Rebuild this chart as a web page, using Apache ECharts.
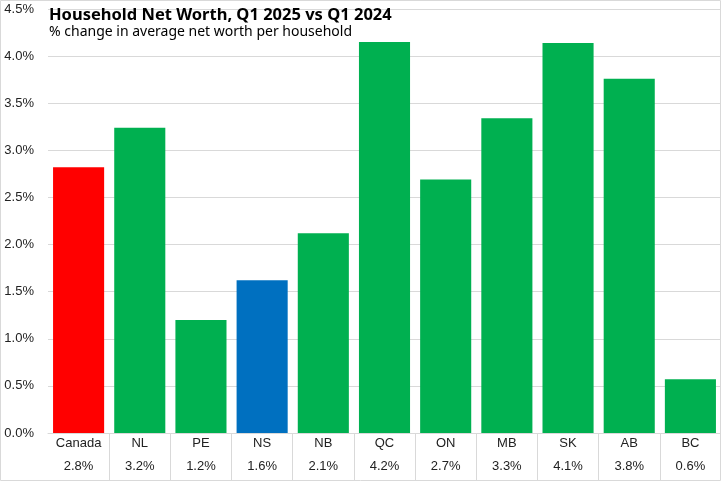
<!DOCTYPE html>
<html><head><meta charset="utf-8">
<script src="https://cdn.jsdelivr.net/npm/echarts@6/dist/echarts.min.js"></script>
<style>html,body{margin:0;padding:0;background:#fff}#c{width:721px;height:481px}</style>
</head><body><div id="c"></div>
<script>
const categories = ['Canada','NL','PE','NS','NB','QC','ON','MB','SK','AB','BC'];
const values = [2.82, 3.24, 1.20, 1.62, 2.12, 4.15, 2.69, 3.34, 4.14, 3.76, 0.57];
const valueLabels = ['2.8%','3.2%','1.2%','1.6%','2.1%','4.2%','2.7%','3.3%','4.1%','3.8%','0.6%'];
const barColors = ['#ff0000','#00b050','#00b050','#0070c0','#00b050','#00b050','#00b050','#00b050','#00b050','#00b050','#00b050'];

const chart = echarts.init(document.getElementById('c'));
chart.setOption({
  animation: false,
  graphic: [{
    type: 'rect', silent: true, z: 100,
    shape: {x: 0.5, y: 0.5, width: 720, height: 480},
    style: {fill: 'none', stroke: '#d9d9d9', lineWidth: 1}
  }],
  title: {
    text: 'Household Net Worth, Q1 2025 vs Q1 2024',
    subtext: '% change in average net worth per household',
    left: 49, top: 7, itemGap: 1, padding: 0,
    textStyle: {fontFamily: 'Noto Sans', fontWeight: 'bold', fontSize: 16.5, color: '#000'},
    subtextStyle: {fontFamily: 'Noto Sans', fontSize: 14, color: '#000'}
  },
  grid: {left: 48, right: 0, top: 9, bottom: 48, containLabel: false},
  xAxis: {
    type: 'category',
    data: categories,
    axisLine: {lineStyle: {color: '#d9d9d9'}},
    axisTick: {show: true, interval: (i) => i > 0, length: 48, lineStyle: {color: '#d9d9d9'}},
    axisLabel: {
      interval: 0, margin: 0,
      formatter: (v, i) => '{a|' + v + '}\n{b|' + valueLabels[i] + '}',
      rich: {
        a: {fontFamily: 'Liberation Sans', fontSize: 13, color: '#222', lineHeight: 20},
        b: {fontFamily: 'Liberation Sans', fontSize: 13, color: '#222', lineHeight: 26}
      }
    }
  },
  yAxis: {
    type: 'value', min: 0, max: 4.5, interval: 0.5,
    axisLine: {show: false}, axisTick: {show: false},
    splitLine: {lineStyle: {color: '#d9d9d9'}},
    axisLabel: {margin: 14, fontFamily: 'Liberation Sans', fontSize: 13, color: '#222',
      formatter: v => v.toFixed(1) + '%'}
  },
  series: [{
    type: 'bar',
    data: values.map((v, i) => ({value: v, itemStyle: {color: barColors[i]}})),
    barCategoryGap: '16.5%'
  }]
});
</script></body></html>
